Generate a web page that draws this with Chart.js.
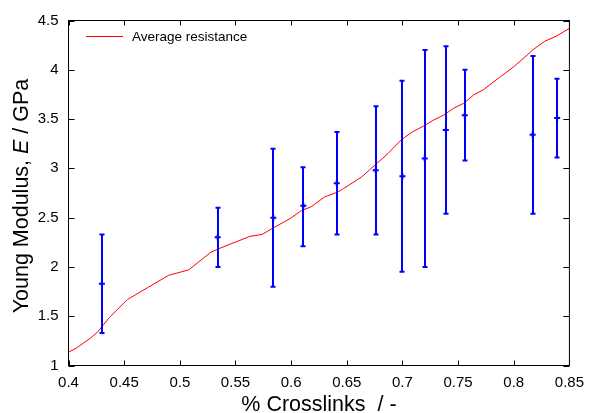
<!DOCTYPE html>
<html>
<head>
<meta charset="utf-8">
<script src="https://cdn.jsdelivr.net/npm/chart.js@4/dist/chart.umd.min.js"></script>
<style>
html,body{margin:0;padding:0;background:#fff;}
canvas{display:block;}
</style>
</head>
<body>
<canvas id="c" width="592" height="413"></canvas>
<script>
// Average resistance curve
const lineX = [0.400, 0.407, 0.420, 0.426, 0.437, 0.453, 0.472, 0.490, 0.508, 0.528, 0.535, 0.554, 0.563, 0.574, 0.583, 0.599, 0.609, 0.618, 0.630, 0.642, 0.647, 0.663, 0.676, 0.687, 0.699, 0.709, 0.719, 0.728, 0.737, 0.746, 0.755, 0.764, 0.773, 0.788, 0.800, 0.810, 0.818, 0.828, 0.838, 0.850];
const lineY = [1.135, 1.176, 1.28, 1.338, 1.49, 1.67, 1.796, 1.915, 1.97, 2.15, 2.185, 2.27, 2.31, 2.33, 2.39, 2.49, 2.57, 2.61, 2.71, 2.76, 2.795, 2.91, 3.04, 3.15, 3.29, 3.37, 3.43, 3.49, 3.54, 3.61, 3.66, 3.745, 3.80, 3.93, 4.03, 4.13, 4.21, 4.29, 4.34, 4.42];

// Measured points with error bars
const barX    = [0.430, 0.534, 0.584, 0.611, 0.641, 0.676, 0.700, 0.720, 0.739, 0.756, 0.817, 0.839];
const barMean = [1.83, 2.30, 2.50, 2.62, 2.85, 2.98, 2.92, 3.10, 3.39, 3.54, 3.34, 3.51];
const barLow  = [1.33, 2.00, 1.80, 2.21, 2.33, 2.33, 1.95, 2.00, 2.54, 3.08, 2.54, 3.11];
const barHigh = [2.33, 2.60, 3.20, 3.01, 3.37, 3.63, 3.89, 4.20, 4.24, 4.00, 4.14, 3.91];

// Axis ticks
const xTicks = [0.4, 0.45, 0.5, 0.55, 0.6, 0.65, 0.7, 0.75, 0.8, 0.85];
const yTicks = [1, 1.5, 2, 2.5, 3, 3.5, 4, 4.5];

const legendLabel = 'Average resistance';
const xTitle = '% Crosslinks  / -';
const yTitleParts = [['Young Modulus, ', false], ['E', true], [' / GPa', false]];

const FONT = '"Liberation Sans", Arial, Helvetica, sans-serif';

const framePlugin = {
  id: 'frame',
  afterDatasetsDraw(chart) {
    const {ctx, scales: {x, y}} = chart;
    ctx.save();
    ctx.strokeStyle = '#0000ff';
    ctx.lineWidth = 2;
    for (let i = 0; i < barX.length; i++) {
      const px = Math.round(x.getPixelForValue(barX[i]));
      const pl = y.getPixelForValue(barLow[i]);
      const ph = y.getPixelForValue(barHigh[i]);
      ctx.beginPath();
      ctx.moveTo(px, pl); ctx.lineTo(px, ph);
      ctx.moveTo(px - 2.5, pl); ctx.lineTo(px + 2.5, pl);
      ctx.moveTo(px - 2.5, ph); ctx.lineTo(px + 2.5, ph);
      ctx.stroke();
    }
    ctx.restore();
  },
  afterDraw(chart) {
    const {ctx, chartArea: a, scales: {x, y}} = chart;
    ctx.save();
    ctx.strokeStyle = '#000';
    ctx.lineWidth = 1;
    ctx.strokeRect(a.left, a.top, a.right - a.left, a.bottom - a.top);
    ctx.beginPath();
    xTicks.forEach(v => {
      const px = Math.round(x.getPixelForValue(v)) + 0.5;
      ctx.moveTo(px, a.bottom); ctx.lineTo(px, a.bottom - 5);
      ctx.moveTo(px, a.top); ctx.lineTo(px, a.top + 5);
    });
    yTicks.forEach(v => {
      const py = Math.round(y.getPixelForValue(v)) + 0.5;
      ctx.moveTo(a.left, py); ctx.lineTo(a.left + 6, py);
      ctx.moveTo(a.right, py); ctx.lineTo(a.right - 6, py);
    });
    ctx.stroke();

    // legend
    ctx.strokeStyle = '#ff0000';
    ctx.beginPath();
    ctx.moveTo(86, 36.5); ctx.lineTo(123, 36.5);
    ctx.stroke();
    ctx.fillStyle = '#000';
    ctx.font = '13.5px ' + FONT;
    ctx.textBaseline = 'alphabetic';
    ctx.textAlign = 'left';
    ctx.fillText(legendLabel, 132, 41);

    // x title
    ctx.font = '21.5px ' + FONT;
    ctx.textAlign = 'center';
    ctx.fillText(xTitle, (a.left + a.right) / 2, 411);

    // y title (mixed italic)
    const normal = '21.5px ' + FONT;
    const italic = 'italic 21.5px ' + FONT;
    let total = 0;
    const widths = yTitleParts.map(([t, it]) => { ctx.font = it ? italic : normal; const w = ctx.measureText(t).width; total += w; return w; });
    ctx.translate(27.5, (a.top + a.bottom) / 2 + 3);
    ctx.rotate(-Math.PI / 2);
    ctx.textAlign = 'left';
    let cx = -total / 2;
    yTitleParts.forEach(([t, it], i) => {
      ctx.font = it ? italic : normal;
      ctx.fillText(t, cx, 0);
      cx += widths[i];
    });
    ctx.restore();
  }
};

const fmt = v => String(Number(v.toFixed(2)));

new Chart(document.getElementById('c'), {
  type: 'scatter',
  data: {
    datasets: [
      {
        label: legendLabel,
        data: lineX.map((v, i) => ({x: v, y: lineY[i]})),
        showLine: true,
        borderColor: '#ff0000',
        borderWidth: 1,
        pointRadius: 0,
        tension: 0,
        fill: false
      },
      {
        label: 'points',
        data: barX.map((v, i) => ({x: v, y: barMean[i]})),
        showLine: false,
        pointStyle: 'cross',
        pointRadius: 3,
        borderColor: '#0000ff',
        backgroundColor: '#0000ff',
        borderWidth: 2
      }
    ]
  },
  options: {
    responsive: false,
    devicePixelRatio: 1,
    animation: false,
    layout: {padding: {top: 20.5, right: 18.5, left: 0, bottom: 0}},
    plugins: {legend: {display: false}, tooltip: {enabled: false}},
    scales: {
      x: {
        type: 'linear', min: 0.4, max: 0.85,
        afterBuildTicks: s => { s.ticks = xTicks.map(v => ({value: v})); },
        afterFit: s => { s.height = 47.5; },
        grid: {display: false, drawTicks: false},
        border: {display: false},
        ticks: {font: {family: FONT, size: 15}, color: '#000', padding: 8, maxRotation: 0, autoSkip: false, callback: fmt}
      },
      y: {
        type: 'linear', min: 1, max: 4.5,
        afterBuildTicks: s => { s.ticks = yTicks.map(v => ({value: v})); },
        afterFit: s => { s.width = 68.5; },
        grid: {display: false, drawTicks: false},
        border: {display: false},
        ticks: {font: {family: FONT, size: 15}, color: '#000', padding: 10, autoSkip: false, callback: fmt}
      }
    }
  },
  plugins: [framePlugin]
});
</script>
</body>
</html>
